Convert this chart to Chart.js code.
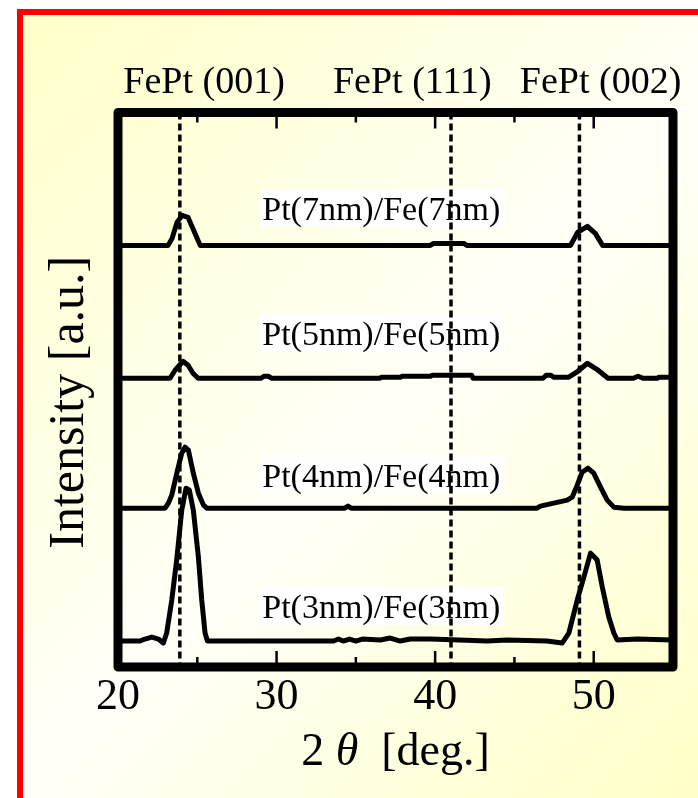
<!DOCTYPE html>
<html lang="en">

<head>
    <meta charset="UTF-8">
    <title>FePt XRD patterns</title>
    <script src="https://cdn.jsdelivr.net/npm/chart.js"></script>
    <style>
        body {
            margin: 0;
            background: #ffffff;
            overflow: hidden;
        }

        #slide {
            position: absolute;
            left: 17px;
            top: 9px;
            width: 720px;
            height: 820px;
            border-left: 6px solid #ff0000;
            border-top: 6px solid #ff0000;
            background: linear-gradient(135deg, #ffffc8 0%, #fffff8 50%, #ffffc0 100%);
        }

        #xrdChart {
            position: absolute;
            left: 0;
            top: 0;
        }
    </style>
</head>

<body>
    <div id="slide"></div>
    <canvas id="xrdChart" width="698" height="798"></canvas>

    <script type="text/javascript">
        const xTickLabels = [20, 30, 40, 50];
        const xMinorTicks = [25, 35, 45];
        const peakPositions = [23.9, 41.0, 49.1];
        const peakNames = ['FePt (001)', 'FePt (111)', 'FePt (002)'];
        const sampleNames = ['Pt(7nm)/Fe(7nm)', 'Pt(5nm)/Fe(5nm)', 'Pt(4nm)/Fe(4nm)', 'Pt(3nm)/Fe(3nm)'];

        // 2theta / intensity (a.u., curves stacked with offsets as in the figure)
        const pt7x = [20, 23.16, 23.41, 23.72, 24.04, 24.42, 24.86, 25.18, 39.7, 39.9, 41.8, 42.0, 48.54, 48.98, 49.6, 50.1, 50.56, 55];
        const pt7y = [422, 422, 429, 445, 452, 450, 434, 422, 422, 424, 424, 422, 422, 435, 441, 434, 422, 422];

        const pt5x = [20, 23.28, 23.6, 24.1, 24.42, 24.73, 25.05, 29.0, 29.2, 29.5, 29.7, 36.5, 36.6, 37.8, 37.9, 39.7, 39.8, 42.3, 42.4,
            46.8, 47.0, 47.3, 47.5, 48.4, 49.0, 49.6, 50.2, 50.9, 51.7, 52.5, 52.8, 53.1, 54.0, 54.1, 55];
        const pt5y = [289, 289, 297, 306, 302, 294, 289, 289, 291, 291, 289, 289, 290, 290, 291, 291, 292, 292, 289,
            289, 292, 292, 290, 290, 296, 304, 298, 289, 289, 289, 291, 289, 289, 290, 290];

        const pt4x = [20, 22.97, 23.18, 23.39, 23.71, 24.02, 24.23, 24.44, 24.75, 25.07, 25.39, 25.6, 34.3, 34.5, 34.7,
            46.43, 46.64, 47.48, 48.33, 48.64, 48.96, 49.27, 49.63, 50.0, 50.43, 50.85, 51.27, 51.9, 55];
        const pt4y = [159, 159, 164, 172, 194, 214, 220, 217, 194, 174, 162, 159, 159, 161, 159,
            159, 161, 164, 167, 170, 182, 195, 199, 194, 180, 167, 160, 159, 159];

        const pt3x = [20, 21.39, 21.7, 22.13, 22.55, 22.86, 23.07, 23.39, 23.7, 24.02, 24.29, 24.5, 24.75, 25.07, 25.28, 25.49, 25.64,
            33.6, 33.9, 34.2, 34.6, 35.0, 35.4, 36.54, 37.17, 37.8, 38.43, 39.7, 43.28, 44.54, 47.06, 48.01, 48.43, 48.96,
            49.38, 49.8, 50.22, 50.54, 50.95, 51.27, 51.48, 52.75, 55];
        const pt3y = [26, 26, 28, 30, 28, 24, 34, 67, 107, 157, 179, 177, 157, 110, 67, 34, 26,
            26, 28, 26, 28, 26, 28, 27, 29, 26, 28, 28, 26, 27, 26, 24, 34, 67,
            90, 114, 107, 80, 50, 34, 27, 28, 27];

        const seriesX = [pt7x, pt5x, pt4x, pt3x];
        const seriesY = [pt7y, pt5y, pt4y, pt3y];

        Chart.defaults.font.family = "'Liberation Serif', 'Times New Roman', serif";
        Chart.defaults.color = '#000000';

        const traceSets = seriesX.map((xs, i) => ({
            label: sampleNames[i],
            data: xs.map((v, j) => ({ x: v, y: seriesY[i][j] })),
            borderColor: '#000000',
            borderWidth: 5,
            borderJoinStyle: 'round',
            borderCapStyle: 'round',
            pointRadius: 0,
            tension: 0
        }));

        const dashSets = peakPositions.map(p => ({
            label: 'peak ' + p,
            data: [{ x: p, y: 555 }, { x: p, y: 0 }],
            borderColor: '#000000',
            borderWidth: 3.5,
            borderDash: [7, 4],
            pointRadius: 0
        }));

        // frame, inward ticks, peak names, sample labels and the x title
        const decorations = {
            id: 'decorations',
            beforeDatasetsDraw(chart, args, opts) {
                const { ctx, scales: { x, y } } = chart;
                ctx.save();
                ctx.font = opts.sampleFont;
                ctx.textAlign = 'center';
                ctx.textBaseline = 'alphabetic';
                sampleNames.forEach((name, i) => {
                    const px = x.getPixelForValue(opts.sampleX);
                    const py = y.getPixelForValue(opts.sampleY[i]);
                    const w = ctx.measureText(name).width;
                    ctx.fillStyle = '#ffffff';
                    ctx.fillRect(px - w / 2 - 3, py - 31, w + 6, 38);
                    ctx.fillStyle = '#000000';
                    ctx.fillText(name, px, py);
                });
                ctx.restore();
            },
            afterDatasetsDraw(chart, args, opts) {
                const { ctx, chartArea: a, scales: { x } } = chart;
                ctx.save();
                ctx.strokeStyle = '#000000';
                ctx.lineWidth = 2.5;
                ctx.beginPath();
                xTickLabels.concat(xMinorTicks).forEach(v => {
                    if (v <= x.min || v >= x.max) return;
                    const len = xTickLabels.includes(v) ? 16 : 10;
                    const px = x.getPixelForValue(v);
                    ctx.moveTo(px, a.bottom);
                    ctx.lineTo(px, a.bottom - len);
                    ctx.moveTo(px, a.top);
                    ctx.lineTo(px, a.top + len);
                });
                ctx.stroke();

                ctx.lineWidth = 9;
                ctx.lineJoin = 'round';
                ctx.strokeRect(a.left, a.top, a.right - a.left, a.bottom - a.top);

                ctx.font = opts.peakFont;
                ctx.fillStyle = '#000000';
                ctx.textAlign = 'center';
                ctx.textBaseline = 'alphabetic';
                peakNames.forEach((name, i) => {
                    ctx.fillText(name, x.getPixelForValue(opts.peakNameX[i]), a.top - opts.peakNameGap);
                });

                // x title: "2 θ  [deg.]" with an italic theta
                const parts = [['2 ', opts.titleFont], ['θ', 'italic ' + opts.titleFont], ['  [deg.]', opts.titleFont]];
                let total = 0;
                parts.forEach(p => { ctx.font = p[1]; total += ctx.measureText(p[0]).width; });
                let tx = (a.left + a.right) / 2 - total / 2;
                ctx.textAlign = 'left';
                parts.forEach(p => {
                    ctx.font = p[1];
                    ctx.fillText(p[0], tx, opts.titleBaseline);
                    tx += ctx.measureText(p[0]).width;
                });
                ctx.restore();
            }
        };

        const ctx = document.getElementById('xrdChart').getContext('2d');
        const xrdChart = new Chart(ctx, {
            type: 'line',
            data: {
                datasets: traceSets.concat(dashSets)
            },
            plugins: [decorations],
            options: {
                responsive: false,
                animation: false,
                events: [],
                layout: {
                    padding: { top: 112.5, right: 25, bottom: 0, left: 0 }
                },
                scales: {
                    x: {
                        type: 'linear',
                        min: 20,
                        max: 55,
                        afterBuildTicks: s => { s.ticks = xTickLabels.map(v => ({ value: v })); },
                        afterFit: s => { s.height = 131; },
                        grid: { display: false, drawTicks: false },
                        border: { display: false },
                        ticks: { font: { size: 44 }, padding: 4, maxRotation: 0, autoSkip: false }
                    },
                    y: {
                        type: 'linear',
                        min: 0,
                        max: 555,
                        afterFit: s => { s.width = 118; },
                        grid: { display: false },
                        border: { display: false },
                        ticks: { display: false },
                        title: {
                            display: true,
                            text: 'Intensity [a.u.]  ',
                            font: { size: 50, lineHeight: 1 },
                            padding: { top: 45, bottom: 0 }
                        }
                    }
                },
                plugins: {
                    legend: { display: false },
                    tooltip: { enabled: false },
                    decorations: {
                        sampleFont: "34px 'Liberation Serif', 'Times New Roman', serif",
                        sampleX: 36.6,
                        sampleY: [447, 322, 180, 49],
                        peakFont: "38px 'Liberation Serif', 'Times New Roman', serif",
                        peakNameX: [25.43, 38.56, 50.43],
                        peakNameGap: 20,
                        titleFont: "46px 'Liberation Serif', 'Times New Roman', serif",
                        titleBaseline: 765
                    }
                }
            }
        });
    </script>

</body>

</html>
